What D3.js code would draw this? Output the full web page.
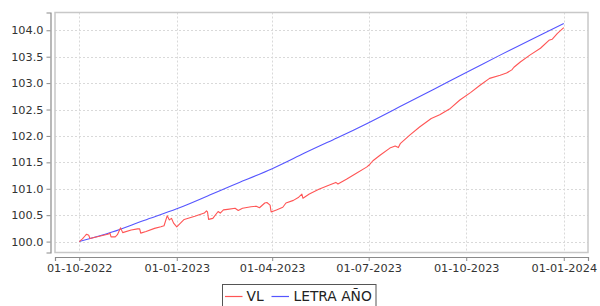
<!DOCTYPE html>
<html><head><meta charset="utf-8">
<script src="https://cdn.jsdelivr.net/npm/d3@7"></script>
<style>body{margin:0;background:#fff;}svg{display:block;}</style>
</head><body>
<script>
// ---- data ----
const seriesNames = ["VL", "LETRA AÑO"];
const seriesColors = ["#ff5555", "#5555ff"];
const xTickLabels = ["01-10-2022","01-01-2023","01-04-2023","01-07-2023","01-10-2023","01-01-2024"];
const yTicks = [100.0,100.5,101.0,101.5,102.0,102.5,103.0,103.5,104.0];

const vlDates = ["2022-10-01","2022-10-04","2022-10-07","2022-10-08","2022-10-10","2022-10-11","2022-10-20","2022-10-28","2022-10-30","2022-10-31",
"2022-11-04","2022-11-06","2022-11-09","2022-11-11","2022-11-19","2022-11-25","2022-11-27","2022-11-28","2022-12-03","2022-12-11",
"2022-12-17","2022-12-20","2022-12-23","2022-12-25","2022-12-27","2022-12-29","2023-01-01","2023-01-04","2023-01-08","2023-01-18",
"2023-01-27","2023-01-29","2023-01-30","2023-01-31","2023-02-04","2023-02-09","2023-02-11","2023-02-14","2023-02-18","2023-02-25",
"2023-02-28","2023-03-04","2023-03-12","2023-03-17","2023-03-20","2023-03-25","2023-03-27","2023-03-30","2023-03-31","2023-04-05",
"2023-04-11","2023-04-14","2023-04-21","2023-04-26","2023-04-29","2023-04-30","2023-05-06","2023-05-15","2023-05-25","2023-05-31",
"2023-06-02","2023-06-10","2023-06-19","2023-06-29","2023-07-02","2023-07-05","2023-07-12","2023-07-21","2023-07-26","2023-07-29",
"2023-07-31","2023-08-09","2023-08-18","2023-08-29","2023-09-06","2023-09-16","2023-09-25","2023-10-05","2023-10-14","2023-10-23",
"2023-11-02","2023-11-08","2023-11-13","2023-11-15","2023-11-21","2023-11-30","2023-12-10","2023-12-18","2023-12-21","2023-12-26",
"2024-01-01"];
const vlValues = [100.00,100.05,100.12,100.14,100.12,100.06,100.10,100.14,100.16,100.09,
100.09,100.13,100.26,100.17,100.22,100.24,100.24,100.16,100.19,100.25,
100.28,100.30,100.49,100.41,100.44,100.35,100.28,100.34,100.42,100.48,
100.54,100.58,100.56,100.42,100.44,100.57,100.54,100.60,100.61,100.63,
100.59,100.63,100.66,100.67,100.64,100.73,100.74,100.69,100.56,100.60,
100.65,100.73,100.78,100.84,100.90,100.82,100.90,100.99,101.07,101.12,
101.09,101.18,101.29,101.41,101.46,101.53,101.64,101.77,101.81,101.78,
101.86,102.02,102.17,102.33,102.40,102.52,102.68,102.82,102.96,103.09,
103.15,103.19,103.25,103.30,103.40,103.53,103.66,103.81,103.83,103.94,
104.05];

const letraDates = ["2022-10-01","2022-11-01","2022-12-01","2023-01-01","2023-02-01","2023-03-01","2023-04-01","2023-05-01","2023-06-01",
"2023-07-01","2023-08-01","2023-09-01","2023-10-01","2023-11-01","2023-12-01","2024-01-01"];
const letraValues = [100.00,100.18,100.40,100.62,100.88,101.12,101.38,101.67,101.96,
102.25,102.57,102.89,103.20,103.52,103.82,104.13];

// ---- layout ----
const W = 600, H = 306;
const plot = {left: 55, top: 12.5, right: 588, bottom: 252.5};
const parse = d3.timeParse("%Y-%m-%d");
const parseTick = d3.timeParse("%d-%m-%Y");

const vl = vlDates.map((d,i)=>({date: parse(d), value: vlValues[i]}));
const letra = letraDates.map((d,i)=>({date: parse(d), value: letraValues[i]}));

const allDates = vl.concat(letra).map(d=>d.date);
const allVals = vl.concat(letra).map(d=>d.value);
const [dMin, dMax] = d3.extent(allDates);
const [vMin, vMax] = d3.extent(allVals);
const dSpan = dMax - dMin, vSpan = vMax - vMin;

const x = d3.scaleTime()
  .domain([new Date(+dMin - dSpan*0.05), new Date(+dMax + dSpan*0.05)])
  .range([plot.left, plot.right]);
const y = d3.scaleLinear()
  .domain([vMin - vSpan*0.05, vMax + vSpan*0.05])
  .range([plot.bottom, plot.top]);

const svg = d3.select("body").append("svg").attr("width", W).attr("height", H)
  .style("font-family", "'DejaVu Sans', sans-serif");

svg.append("rect").attr("width", W).attr("height", H).attr("fill", "#fff");

const xTickDates = xTickLabels.map(parseTick);

// gridlines
const grid = svg.append("g");
grid.selectAll("line.h").data(yTicks).join("line")
  .attr("x1", plot.left).attr("x2", plot.right)
  .attr("y1", d=>Math.round(y(d))+0.5).attr("y2", d=>Math.round(y(d))+0.5)
  .attr("stroke", "#d9d9d9").attr("stroke-dasharray", "2,2");
grid.selectAll("line.v").data(xTickDates).join("line")
  .attr("y1", plot.top).attr("y2", plot.bottom)
  .attr("x1", d=>Math.round(x(d))+0.5).attr("x2", d=>Math.round(x(d))+0.5)
  .attr("stroke", "#d9d9d9").attr("stroke-dasharray", "2,2");

// plot outline
svg.append("rect").attr("x", plot.left).attr("y", plot.top)
  .attr("width", plot.right-plot.left).attr("height", plot.bottom-plot.top)
  .attr("fill", "none").attr("stroke", "#c8c8c8").attr("stroke-width", 1.5);

// axes
const yAxis = d3.axisLeft(y).tickValues(yTicks).tickFormat(d3.format(".1f")).tickSize(4).tickPadding(3);
const gy = svg.append("g").attr("transform", `translate(${plot.left-4.5},0)`).call(yAxis);
const xAxis = d3.axisBottom(x).tickValues(xTickDates).tickFormat((d,i)=>xTickLabels[i]).tickSize(4).tickPadding(3);
const gx = svg.append("g").attr("transform", `translate(0,${plot.bottom+4.5})`).call(xAxis);
[gx, gy].forEach(g=>{
  g.select(".domain").attr("stroke", "#8a8a8a").attr("stroke-width", 1.2);
  g.selectAll(".tick line").attr("stroke", "#8a8a8a");
  g.selectAll(".tick text").attr("fill", "#333").style("font-size", "11.3px")
    .style("font-family", "'DejaVu Sans', sans-serif");
});

// lines
const lineStraight = d3.line().x(d=>x(d.date)).y(d=>y(d.value));
const lineSmooth = d3.line().x(d=>x(d.date)).y(d=>y(d.value)).curve(d3.curveNatural);
const clip = svg.append("clipPath").attr("id","clip").append("rect")
  .attr("x", plot.left).attr("y", plot.top).attr("width", plot.right-plot.left).attr("height", plot.bottom-plot.top);
const lines = svg.append("g").attr("clip-path","url(#clip)");
lines.append("path").datum(letra).attr("d", lineSmooth)
  .attr("fill","none").attr("stroke", seriesColors[1]).attr("stroke-width", 1.1);
lines.append("path").datum(vl).attr("d", lineStraight)
  .attr("fill","none").attr("stroke", seriesColors[0]).attr("stroke-width", 1.1).attr("stroke-linejoin","round");

// legend
const lg = svg.append("g");
lg.append("rect").attr("x", 222.5).attr("y", 284.5).attr("width", 153.5).attr("height", 30)
  .attr("fill", "#fff").attr("stroke", "#555").attr("stroke-width", 1);
const items = [{x: 225, tx: 246.5}, {x: 271.5, tx: 293.5}];
items.forEach((it,i)=>{
  lg.append("line").attr("x1", it.x).attr("x2", it.x+17.5).attr("y1", 296.5).attr("y2", 296.5)
    .attr("stroke", seriesColors[i]).attr("stroke-width", 1.2);
  lg.append("text").attr("x", it.tx).attr("y", 300.7).text(seriesNames[i])
    .attr("fill", "#222").style("font-size", "13.8px");
});
</script>
</body></html>
